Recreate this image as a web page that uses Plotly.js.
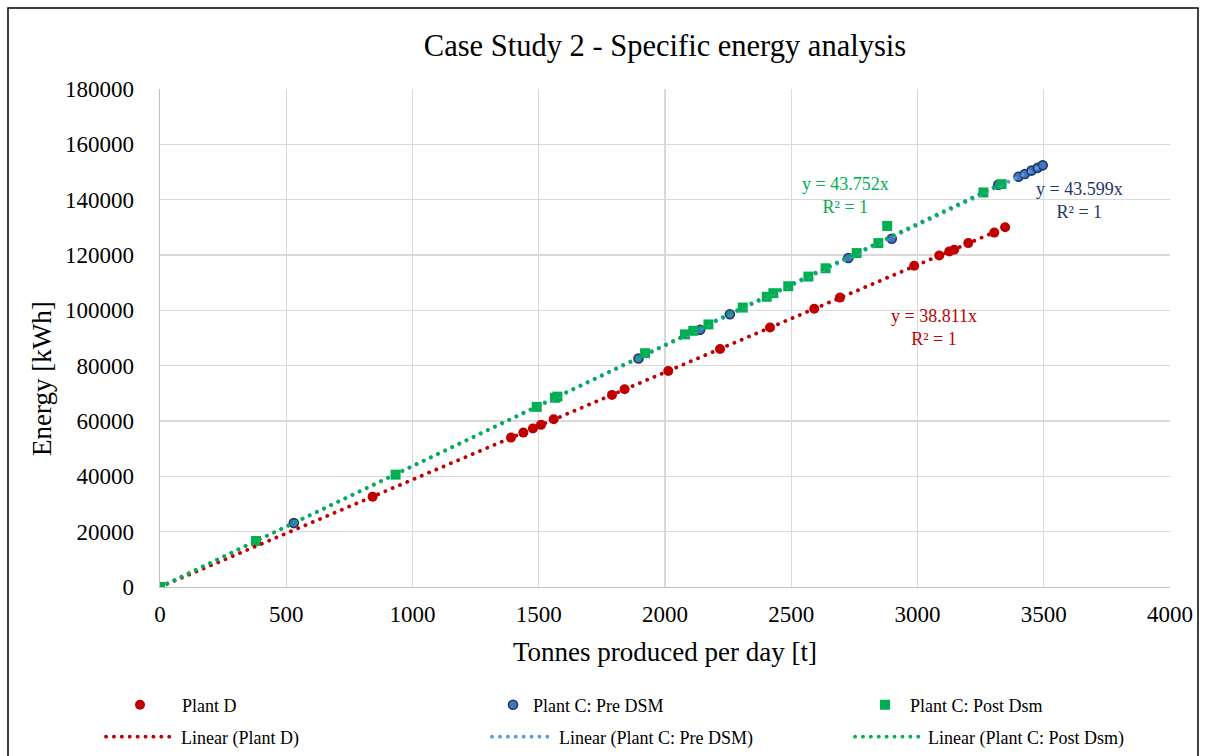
<!DOCTYPE html>
<html>
<head>
<meta charset="utf-8">
<script src="https://cdn.plot.ly/plotly-3.0.1.min.js"></script>
<style>
  html, body { margin: 0; padding: 0; background: #fff; }
  #chart { width: 1206px; height: 756px; }
  path.js-line, .legendlines path { stroke-linecap: round !important; stroke-dasharray: 0.1px 7.8px !important; }
</style>
</head>
<body>
<div id="chart"></div>
<script>
// ---- data ----
const plantD_x = [0, 842, 1390, 1439, 1477, 1509, 1559, 1790, 1840, 2013, 2218, 2416, 2591, 2693, 2987, 3086, 3126, 3145, 3201, 3304, 3347];
const plantD_y = [0, 32660, 54000, 55800, 57300, 58600, 60640, 69440, 71500, 78100, 86000, 93800, 100600, 104600, 116100, 119800, 121300, 121900, 124300, 128100, 130000];

const preDSM_x = [0, 530, 1895, 2139, 2257, 2726, 2898, 3320, 3400, 3425, 3452, 3476, 3496];
const preDSM_y = [0, 23100, 82600, 92950, 98600, 118900, 125900, 145400, 148300, 149300, 150500, 151500, 152400];

const postDSM_x = [0, 380, 933, 1492, 1564, 1574, 1921, 2079, 2112, 2172, 2308, 2403, 2429, 2488, 2568, 2636, 2759, 2845, 2880, 3261, 3333];
const postDSM_y = [0, 16640, 40600, 65100, 68400, 68800, 84500, 91300, 92600, 94900, 101000, 104900, 106200, 108700, 112200, 115200, 120700, 124300, 130500, 142600, 145600];

const seriesNames = ["Plant D", "Plant C: Pre DSM", "Plant C: Post Dsm"];
const trendSlopes = [38.811, 43.599, 43.752];   // from the trendline labels
const trendR2 = ["1", "1", "1"];
const xTickVals = [0, 500, 1000, 1500, 2000, 2500, 3000, 3500, 4000];
const yTickVals = [0, 20000, 40000, 60000, 80000, 100000, 120000, 140000, 160000, 180000];

// ---- build traces ----
const FONT = "Liberation Serif, Times New Roman, serif";
const colD = "#C00000", colPreFill = "#4472C4", colPreLine = "#1F3864", colPreTrend = "#5B9BD5", colPost = "#00B050";

const xs = [plantD_x, preDSM_x, postDSM_x];
const ys = [plantD_y, preDSM_y, postDSM_y];

const markerStyles = [
  {symbol: "circle", size: 10, color: colD},
  {symbol: "circle", size: 9, color: colPreFill, line: {color: colPreLine, width: 1.6}},
  {symbol: "square", size: 10, color: colPost}
];
const trendColors = [colD, colPreTrend, colPost];

const traces = [];
for (let i = 0; i < 3; i++) {
  traces.push({
    type: "scatter", mode: "markers", name: seriesNames[i],
    x: xs[i], y: ys[i], marker: markerStyles[i], legend: i === 0 ? "legend" : "legend" + (i + 1),
    hoverinfo: "x+y"
  });
}
for (let i = 0; i < 3; i++) {
  const x0 = Math.min(...xs[i]), x1 = Math.max(...xs[i]);
  traces.push({
    type: "scatter", mode: "lines", name: "Linear (" + seriesNames[i] + ")",
    x: [x0, x1], y: [x0 * trendSlopes[i], x1 * trendSlopes[i]],
    line: {color: trendColors[i], width: 3.8, dash: "dot"}, legend: "legend" + (i + 4),
    hoverinfo: "skip"
  });
}

const annColors = [colD, colPreLine, colPost];
const annPos = [[0.766, 0.521], [0.91, 0.776], [0.679, 0.786]];
const annotations = [];
for (let i = 0; i < 3; i++) {
  annotations.push({
    xref: "paper", yref: "paper", x: annPos[i][0], y: annPos[i][1],
    xanchor: "center", yanchor: "middle", showarrow: false, align: "center",
    text: "y = " + trendSlopes[i].toFixed(3) + "x<br>R² = " + trendR2[i],
    font: {family: FONT, size: 18, color: annColors[i]}
  });
}
// y-axis title (placed as in the reference, below the axis centre)
annotations.push({
  xref: "paper", yref: "paper", x: (42 - 160) / 1010, y: (587 - 379) / 498,
  xanchor: "center", yanchor: "middle", showarrow: false, textangle: -90,
  text: "Energy [kWh]", font: {family: FONT, size: 27, color: "#000"}
});

// legend boxes: [left px, centre y px, symbol width px]
const legendBoxes = [[98, 705, 74], [493, 705, 30], [860, 705, 40], [101, 737, 70], [487, 737, 62], [850, 737, 68]];

const layout = {
  width: 1206, height: 756,
  paper_bgcolor: "#ffffff", plot_bgcolor: "#ffffff",
  margin: {l: 160, r: 36, t: 89, b: 169},
  font: {family: FONT, color: "#000"},
  title: {text: "Case Study 2 - Specific energy analysis", font: {family: FONT, size: 30.5, color: "#000"},
          x: 0.5, xref: "paper", xanchor: "center", y: 1 - 45/756, yref: "container", yanchor: "middle"},
  xaxis: {
    range: [0, 4000], tickvals: xTickVals, tickformat: "d",
    showgrid: true, gridcolor: "#d9d9d9", gridwidth: 1.3,
    showline: true, linecolor: "#bfbfbf", linewidth: 1.3, zeroline: false,
    ticks: "", ticklabelstandoff: 6,
    tickfont: {family: FONT, size: 23, color: "#000"},
    title: {text: "Tonnes produced per day [t]", font: {family: FONT, size: 27, color: "#000"}, standoff: 16}
  },
  yaxis: {
    range: [0, 180000], tickvals: yTickVals, tickformat: "d",
    showgrid: true, gridcolor: "#d9d9d9", gridwidth: 1.3,
    showline: true, linecolor: "#bfbfbf", linewidth: 1.3, zeroline: false,
    ticks: "", ticklabelstandoff: 20,
    tickfont: {family: FONT, size: 23, color: "#000"}
  },
  showlegend: true,
  annotations: annotations,
  shapes: [{
    type: "rect", xref: "paper", yref: "paper",
    x0: (8 - 160) / 1010, x1: (1198 - 160) / 1010,
    y0: (587 - 770) / 498, y1: (587 - 8) / 498,
    line: {color: "#000", width: 1.5}, fillcolor: "rgba(0,0,0,0)", layer: "below"
  }]
};
legendBoxes.forEach((b, k) => {
  layout[k === 0 ? "legend" : "legend" + (k + 1)] = {
    orientation: "h", xref: "container", yref: "container",
    x: b[0] / 1206, y: 1 - b[1] / 756, xanchor: "left", yanchor: "middle",
    itemwidth: b[2],
    font: {family: FONT, size: 18, color: "#000"}, bgcolor: "rgba(0,0,0,0)"
  };
});

Plotly.newPlot("chart", traces, layout, {displayModeBar: false, staticPlot: true});
</script>
</body>
</html>
